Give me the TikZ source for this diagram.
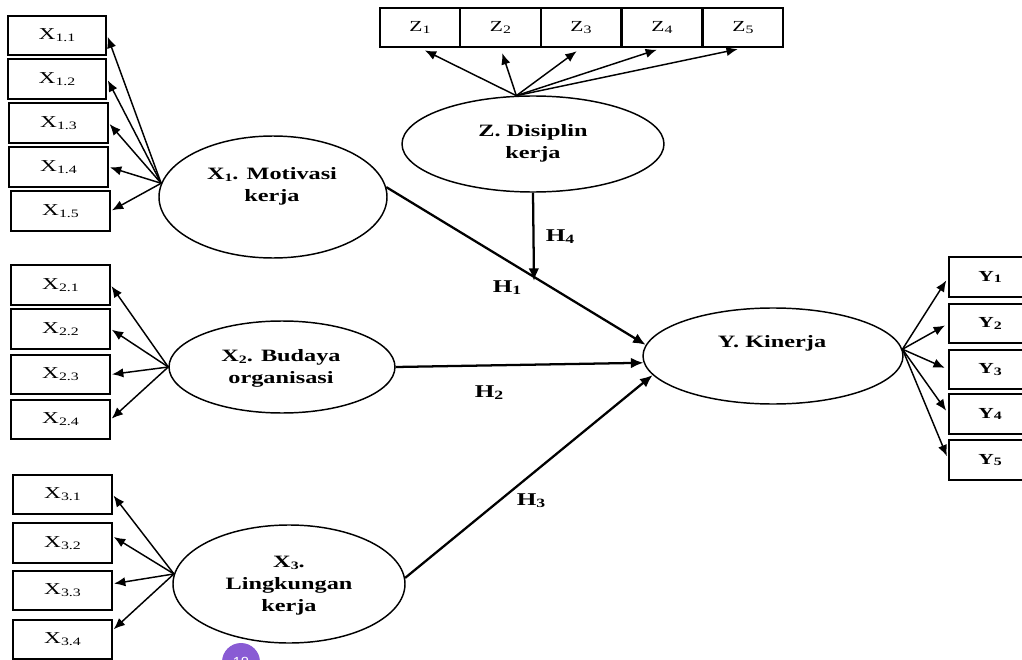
\documentclass[tikz,border=0pt]{standalone}
\usepackage{fontspec}
\setmainfont[FakeStretch=1.4]{Liberation Serif}
\newfontfamily\badgefont{Liberation Sans}
\usetikzlibrary{arrows.meta,shapes.geometric}
\newcommand\sbx[1]{\raisebox{-0.12em}{\fontsize{8.5}{9}\selectfont #1}}
\newcommand\sbh[1]{\raisebox{-0.12em}{\fontsize{9.5}{10}\selectfont #1}}
\definecolor{badge}{RGB}{137,91,212}
\begin{document}
\begin{tikzpicture}[x=0.75pt,y=-0.75pt,
  ind/.style={draw,line width=1.3pt,minimum width=74pt,minimum height=29.5pt,inner sep=0pt,font=\fontsize{12.5}{13}\selectfont},
  zind/.style={draw,line width=1.3pt,minimum width=60pt,minimum height=29.5pt,inner sep=0pt,font=\fontsize{11.5}{12}\selectfont},
  yind/.style={draw,line width=1.3pt,minimum width=61pt,minimum height=29.5pt,inner sep=0pt,font=\bfseries\fontsize{11.5}{12}\selectfont},
  lat/.style={draw,ellipse,line width=1.1pt,inner sep=0pt},
  lbl/.style={font=\bfseries\fontsize{13}{16.5}\selectfont,align=center,inner sep=0pt},
  arr/.style={-{Latex[length=8.5pt,width=7pt]},line width=1.1pt},
  hyp/.style={-{Latex[length=9.5pt,width=8pt]},line width=1.7pt},
  hl/.style={font=\bfseries\fontsize{13.5}{14}\selectfont,inner sep=0pt}]
\useasboundingbox (0,0) rectangle (1022,660);
\clip (0,0) rectangle (1022,660);
\fill[white] (0,0) rectangle (1022,660);

% latent variables
\node[lat,minimum width=171pt,minimum height=91.5pt] (x1) at (273,197) {};
\node[lat,minimum width=169.5pt,minimum height=69pt] (x2) at (282,367) {};
\node[lat,minimum width=174pt,minimum height=88.5pt] (x3) at (289,584) {};
\node[lat,minimum width=196.5pt,minimum height=72pt] (z) at (533,144) {};
\node[lat,minimum width=195pt,minimum height=72pt] (y) at (773,356) {};

\node[lbl] (x1t) at (272,186) {X\sbx{1}. Motivasi\\kerja};
\node[lbl] (x2t) at (281,368) {X\sbx{2}. Budaya\\organisasi};
\node[lbl] (x3t) at (289,586) {X\sbx{3}.\\Lingkungan\\kerja};
\node[lbl] (zt) at (533,143) {Z. Disiplin\\kerja};
\node[lbl] (yt) at (772,343) {Y. Kinerja};

% indicators X1
\node[ind] (x11) at (57,35.5) {X\sbx{1.1}};
\node[ind] (x12) at (57,79) {X\sbx{1.2}};
\node[ind] (x13) at (58.5,123) {X\sbx{1.3}};
\node[ind] (x14) at (58.5,167) {X\sbx{1.4}};
\node[ind] (x15) at (60.5,211) {X\sbx{1.5}};
% indicators X2
\node[ind] (x21) at (60.5,285) {X\sbx{2.1}};
\node[ind] (x22) at (60.5,329) {X\sbx{2.2}};
\node[ind] (x23) at (60.5,374.5) {X\sbx{2.3}};
\node[ind] (x24) at (60.5,419.5) {X\sbx{2.4}};
% indicators X3
\node[ind] (x31) at (62.5,494.5) {X\sbx{3.1}};
\node[ind] (x32) at (62.5,543) {X\sbx{3.2}};
\node[ind] (x33) at (62.5,590.5) {X\sbx{3.3}};
\node[ind] (x34) at (62.5,639.5) {X\sbx{3.4}};
% indicators Z
\node[zind] (z1) at (420,27.5) {Z\sbx{1}};
\node[zind] (z2) at (500.5,27.5) {Z\sbx{2}};
\node[zind] (z3) at (581,27.5) {Z\sbx{3}};
\node[zind] (z4) at (662,27.5) {Z\sbx{4}};
\node[zind] (z5) at (743,27.5) {Z\sbx{5}};
% indicators Y
\node[yind] (y1) at (990,277) {Y\sbx{1}};
\node[yind] (y2) at (990,323.5) {Y\sbx{2}};
\node[yind] (y3) at (990,369.5) {Y\sbx{3}};
\node[yind] (y4) at (990,414) {Y\sbx{4}};
\node[yind] (y5) at (990,460) {Y\sbx{5}};

% loadings
\foreach \t in {x11,x12,x13,x14,x15}
  \draw[arr,shorten >=1pt] (x1.173) -- (\t.east);
\foreach \t in {x21,x22,x23,x24}
  \draw[arr,shorten >=1pt] (x2.180) -- (\t.east);
\draw[arr,shorten >=1pt] (x3.175) -- (x31.east);
\draw[arr,shorten >=1pt] (x3.175) -- ([yshift=5pt]x32.east);
\draw[arr,shorten >=1pt] (x3.175) -- ([yshift=5pt]x33.east);
\draw[arr,shorten >=1pt] (x3.175) -- ([yshift=7pt]x34.east);
\foreach \t in {z1,z2,z3,z4,z5}
  \draw[arr,shorten >=4pt] (z.109) -- (\t.south);
\foreach \t in {y1,y2,y3,y4,y5}
  \draw[arr,shorten >=3pt] (y.3) -- (\t.west);

% hypotheses
\coordinate (h4end) at (534,281);
\draw[hyp] (x1.5) -- (y.175);
\draw[hyp] (x2.0) -- (y.183);
\draw[hyp] (x3.3) -- (y.189);
\draw[hyp] (z.south) -- (h4end);
\node[hl] (h1) at (507,288) {H\sbh{1}};
\node[hl] (h2) at (489,393) {H\sbh{2}};
\node[hl] (h3) at (531,501) {H\sbh{3}};
\node[hl] (h4) at (560,237) {H\sbh{4}};

% page badge
\node[circle,fill=badge,minimum size=28.5pt,inner sep=0pt,text=white,font=\badgefont\fontsize{11}{12}\selectfont] (badge) at (241,662) {18};
\end{tikzpicture}
\end{document}
